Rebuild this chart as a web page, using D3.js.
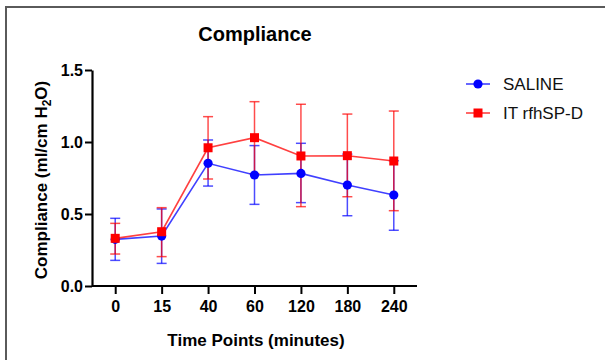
<!DOCTYPE html>
<html>
<head>
<meta charset="utf-8">
<script src="https://cdn.jsdelivr.net/npm/d3@7"></script>
<style>
  body { margin: 0; background: #fff; }
  svg { display: block; font-family: "Liberation Sans", Arial, sans-serif; }
</style>
</head>
<body>
<div id="chart"></div>
<script>
const timePoints = ["0", "15", "40", "60", "120", "180", "240"];

const salineMean = [0.324, 0.347, 0.852, 0.771, 0.782, 0.701, 0.632];
const salineUpper = [0.470, 0.535, 1.014, 0.975, 0.991, 0.916, 0.870];
const salineLower = [0.178, 0.157, 0.694, 0.567, 0.579, 0.488, 0.387];

const rfhMean = [0.331, 0.377, 0.960, 1.030, 0.903, 0.905, 0.868];
const rfhUpper = [0.435, 0.544, 1.176, 1.280, 1.262, 1.194, 1.215];
const rfhLower = [0.222, 0.204, 0.743, 0.780, 0.551, 0.620, 0.523];

const yTicks = [0, 0.5, 1.0, 1.5];

const series = [
    { name: "SALINE", color: "#0000ff", shape: "circle", mean: salineMean, upper: salineUpper, lower: salineLower },
    { name: "IT rfhSP-D", color: "#ff0000", shape: "square", mean: rfhMean, upper: rfhUpper, lower: rfhLower }
];

const W = 605, H = 360;

const svg = d3.select("#chart").append("svg")
    .attr("width", W)
    .attr("height", H);

// frame (cropped at right and bottom)
svg.append("path")
    .attr("d", "M6,360 V7 H605")
    .attr("fill", "none")
    .attr("stroke", "#5a5a5a")
    .attr("stroke-width", 2);

const x = d3.scalePoint()
    .domain(timePoints)
    .range([92, 417])
    .padding(0.5);

const y = d3.scaleLinear()
    .domain([0, 1.5])
    .range([286, 70]);

// title
svg.append("text")
    .attr("x", 255)
    .attr("y", 41)
    .attr("text-anchor", "middle")
    .attr("font-size", 20)
    .attr("font-weight", "bold")
    .text("Compliance");

// axes
const xAxis = svg.append("g")
    .attr("transform", "translate(0,286)")
    .call(d3.axisBottom(x).tickSize(8).tickSizeOuter(0).tickPadding(7));

const yAxis = svg.append("g")
    .attr("transform", "translate(92,0)")
    .call(d3.axisLeft(y).tickValues(yTicks).tickFormat(d3.format(".1f")).tickSize(7).tickSizeOuter(0).tickPadding(2));

[xAxis, yAxis].forEach(g => {
    g.select(".domain").attr("stroke", "#000").attr("stroke-width", 2.2);
    g.selectAll(".tick line").attr("stroke", "#000").attr("stroke-width", 2);
    g.selectAll(".tick text")
        .attr("fill", "#000")
        .attr("font-size", 16)
        .attr("font-weight", "bold")
        .attr("font-family", "'Liberation Sans', Arial, sans-serif");
});
// extend x axis line to the y axis
xAxis.select(".domain").attr("d", "M92,0H417");

svg.append("text")
    .attr("x", 256)
    .attr("y", 346)
    .attr("text-anchor", "middle")
    .attr("font-size", 17)
    .attr("font-weight", "bold")
    .text("Time Points (minutes)");

const yLabel = svg.append("text")
    .attr("transform", "translate(47,180) rotate(-90)")
    .attr("text-anchor", "middle")
    .attr("font-size", 17)
    .attr("font-weight", "bold");
yLabel.append("tspan").text("Compliance (ml/cm H");
yLabel.append("tspan").attr("font-size", 12).attr("dy", 4).text("2");
yLabel.append("tspan").attr("dy", -4).text("O)");

// error bars
series.forEach(s => {
    const g = svg.append("g")
        .attr("stroke", s.color)
        .attr("stroke-opacity", 0.7)
        .attr("stroke-width", 1.5)
        .attr("fill", "none");
    timePoints.forEach((t, i) => {
        const cx = x(t);
        g.append("line").attr("x1", cx).attr("x2", cx).attr("y1", y(s.upper[i])).attr("y2", y(s.lower[i]));
        g.append("line").attr("x1", cx - 5).attr("x2", cx + 5).attr("y1", y(s.upper[i])).attr("y2", y(s.upper[i]));
        g.append("line").attr("x1", cx - 5).attr("x2", cx + 5).attr("y1", y(s.lower[i])).attr("y2", y(s.lower[i]));
    });
});

// lines
const line = d3.line()
    .x((d, i) => x(timePoints[i]))
    .y(d => y(d));

series.forEach(s => {
    svg.append("path")
        .datum(s.mean)
        .attr("fill", "none")
        .attr("stroke", s.color)
        .attr("stroke-opacity", 0.75)
        .attr("stroke-width", 1.6)
        .attr("d", line);
});

function drawMarker(g, shape, cx, cy, color) {
    if (shape === "circle") {
        g.append("circle").attr("cx", cx).attr("cy", cy).attr("r", 4.6).attr("fill", color);
    } else {
        g.append("rect").attr("x", cx - 4.5).attr("y", cy - 4.5).attr("width", 9).attr("height", 9).attr("fill", color);
    }
}

// markers
series.forEach(s => {
    const g = svg.append("g");
    s.mean.forEach((v, i) => drawMarker(g, s.shape, x(timePoints[i]), y(v), s.color));
});

// legend
series.forEach((s, i) => {
    const ly = 84 + i * 29;
    const g = svg.append("g");
    g.append("line")
        .attr("x1", 466).attr("x2", 490)
        .attr("y1", ly).attr("y2", ly)
        .attr("stroke", s.color)
        .attr("stroke-opacity", 0.75)
        .attr("stroke-width", 1.6);
    drawMarker(g, s.shape, 478, ly, s.color);
    g.append("text")
        .attr("x", 503)
        .attr("y", ly + 6)
        .attr("font-size", 17)
        .attr("fill", "#111")
        .text(s.name);
});
</script>
</body>
</html>
